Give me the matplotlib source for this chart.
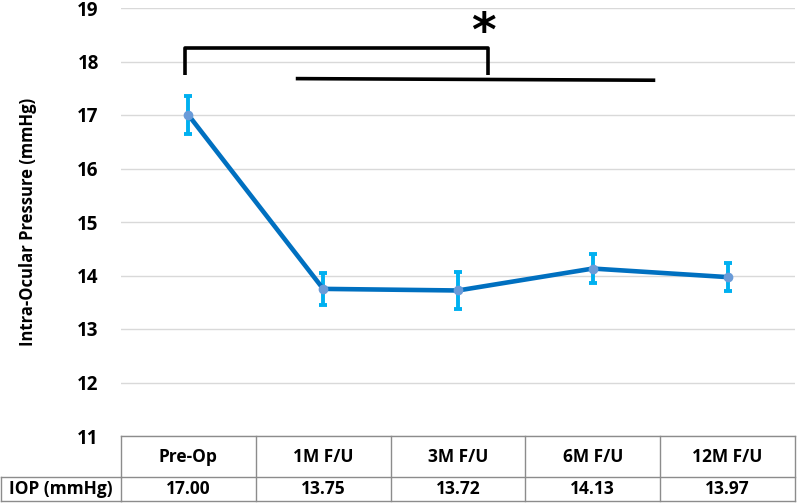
import matplotlib
matplotlib.use("Agg")
import matplotlib.pyplot as plt
from matplotlib.transforms import blended_transform_factory

plt.rcParams['font.family'] = ['Open Sans', 'DejaVu Sans']
plt.rcParams['font.weight'] = 'bold'

categories = ["Pre-Op", "1M F/U", "3M F/U", "6M F/U", "12M F/U"]
iop = [17.00, 13.75, 13.72, 14.13, 13.97]
err = [0.36, 0.30, 0.34, 0.27, 0.26]
row_label = "IOP (mmHg)"
yticks = [11, 12, 13, 14, 15, 16, 17, 18, 19]

W, H = 797, 504
fig = plt.figure(figsize=(W / 100, H / 100), dpi=100)
ax = fig.add_axes([121 / W, 1 - 436 / H, (795 - 121) / W, (436 - 8) / H])

x = list(range(len(categories)))
ax.set_xlim(-0.5, len(categories) - 0.5)
ax.set_ylim(11, 19)
ax.set_yticks(yticks)
ax.set_yticklabels([str(t) for t in yticks], fontsize=13.5, fontweight='bold')
ax.set_xticks([])
ax.tick_params(axis='y', length=0, pad=16)
for s in ax.spines.values():
    s.set_visible(False)
ax.grid(axis='y', color='#d9d9d9', linewidth=1)
ax.set_axisbelow(True)

ax.errorbar(x, iop, yerr=err, fmt='none', ecolor='#00b0f0', elinewidth=2.8,
            capsize=3, capthick=2.8, zorder=2)
ax.plot(x, iop, color='#0070c0', linewidth=3.3, zorder=3)
ax.plot(x, iop, linestyle='none', marker='o', markersize=6,
        color='#6a9bd8', zorder=4)

ax.set_ylabel("Intra-Ocular Pressure (mmHg)", fontsize=12, fontweight='bold')
ax.yaxis.set_label_coords(-(121 - 37) / (795 - 121), 0.5)

# significance bracket
ax.plot([-0.025, -0.025, 2.22, 2.22], [17.75, 18.25, 18.25, 17.75],
        color='black', linewidth=2.6, solid_joinstyle='round',
        solid_capstyle='butt', zorder=5)
ax.plot([0.81, 3.45], [17.68, 17.65], color='black', linewidth=2.6, zorder=5)
ax.text(2.19, 18.52, "*", ha='center', va='center', fontsize=34,
        fontweight='bold', family='DejaVu Sans', color='black')

# table below axes
tr = blended_transform_factory(ax.transData, fig.transFigure)
y_top = 1 - 436 / H
y_mid = 1 - 477 / H
y_bot = 1 - 501 / H
gc = '#8c8c8c'
lw = 1.0
lo, hi = -0.5, len(categories) - 0.5
ax.plot([lo, hi], [y_top, y_top], transform=tr, color=gc, lw=lw, clip_on=False)
ax.plot([lo, hi], [y_mid, y_mid], transform=tr, color=gc, lw=lw, clip_on=False)
ax.plot([lo, hi], [y_bot, y_bot], transform=tr, color=gc, lw=lw, clip_on=False)
fig.add_artist(plt.Line2D([1 / W, 121 / W], [y_mid, y_mid], color=gc, lw=lw))
fig.add_artist(plt.Line2D([1 / W, 121 / W], [y_bot, y_bot], color=gc, lw=lw))
fig.add_artist(plt.Line2D([1 / W, 1 / W], [y_mid, y_bot], color=gc, lw=lw))
for i in range(len(categories) + 1):
    xb = i - 0.5
    ax.plot([xb, xb], [y_top, y_bot], transform=tr, color=gc, lw=lw, clip_on=False)
for i, (c, v) in enumerate(zip(categories, iop)):
    ax.text(i, (y_top + y_mid) / 2, c, transform=tr, ha='center', va='center',
            fontsize=12.5, fontweight='bold')
    ax.text(i, (y_mid + y_bot) / 2, f"{v:.2f}", transform=tr, ha='center',
            va='center', fontsize=12.5, fontweight='bold')
fig.text(61 / W, (y_mid + y_bot) / 2, row_label, ha='center', va='center',
         fontsize=12.5, fontweight='bold')

fig.savefig("out.png", dpi=100)
